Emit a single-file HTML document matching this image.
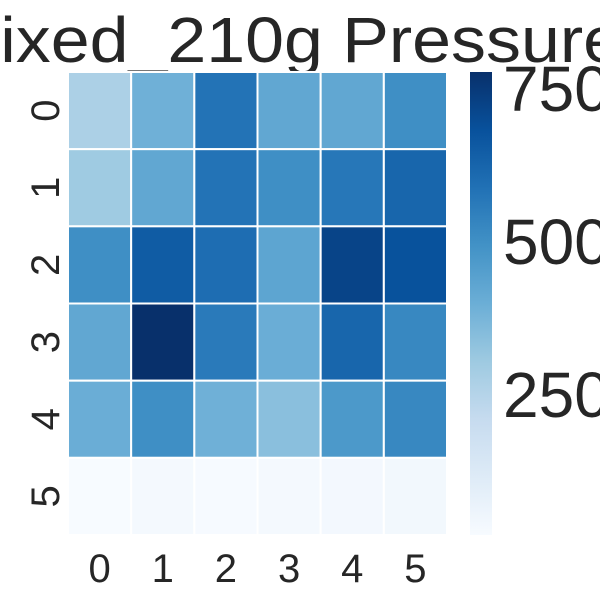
<!DOCTYPE html>
<html><head><meta charset="utf-8"><style>body{margin:0;background:#fff}svg{display:block}</style></head>
<body>
<svg id="chart" width="600" height="600" xmlns="http://www.w3.org/2000/svg" font-family="Liberation Sans, Arial, sans-serif">
<text x="-58" y="62" font-size="64" fill="#262626" textLength="680" lengthAdjust="spacingAndGlyphs">Mixed_210g Pressure</text>
<g id="cells"></g>
<g id="xt"></g>
<g id="yt"></g>
<defs><linearGradient id="cbg" x1="0" y1="1" x2="0" y2="0"></linearGradient></defs>
<rect x="470" y="72" width="22" height="463" fill="url(#cbg)"/>
<g id="ct"></g>
</svg>
<script>
const xLabels=["0","1","2","3","4","5"];
const yLabels=["0","1","2","3","4","5"];
const values=[
[270,390,580,420,420,500],
[300,420,580,500,570,620],
[500,650,600,430,720,680],
[420,776,560,400,620,520],
[400,500,390,340,470,520],
[20,30,25,30,35,40]];
const cbTicks=[250,500,750];
const vmin=20,vmax=776;
const stops=["#f7fbff","#deebf7","#c6dbef","#9ecae1","#6baed6","#4292c6","#2171b5","#08519c","#08306b"];
function hex(h){return [1,3,5].map(i=>parseInt(h.substr(i,2),16));}
function color(v){let t=Math.max(0,Math.min(1,(v-vmin)/(vmax-vmin)))*(stops.length-1);let i=Math.min(Math.floor(t),stops.length-2),f=t-i;const a=hex(stops[i]),b=hex(stops[i+1]);return "rgb("+a.map((c,k)=>Math.round(c+(b[k]-c)*f)).join(",")+")";}
const X0=68,X1=447,Y0=72,Y1=535;
const cw=(X1-X0)/xLabels.length,ch=(Y1-Y0)/yLabels.length;
const xs=i=>X0+i*cw, ys=j=>Y0+j*ch;
const ns="http://www.w3.org/2000/svg";
const cells=document.getElementById('cells');
values.forEach((row,j)=>row.forEach((v,i)=>{const r=document.createElementNS(ns,'rect');
r.setAttribute('x',xs(i));r.setAttribute('y',ys(j));r.setAttribute('width',cw);r.setAttribute('height',ch);
r.setAttribute('fill',color(v));r.setAttribute('stroke','#fff');r.setAttribute('stroke-width','2');


cells.appendChild(r);}));
const xt=document.getElementById('xt');
xLabels.forEach((l,i)=>{const t=document.createElementNS(ns,'text');t.setAttribute('x',xs(i)+cw/2);t.setAttribute('y',582);t.setAttribute('text-anchor','middle');t.setAttribute('font-size','40');t.setAttribute('fill','#262626');t.textContent=l;


xt.appendChild(t);});
const yt=document.getElementById('yt');
yLabels.forEach((l,j)=>{const t=document.createElementNS(ns,'text');const cy=ys(j)+ch/2;t.setAttribute('transform','translate(59,'+cy+') rotate(-90)');t.setAttribute('text-anchor','middle');t.setAttribute('font-size','40');t.setAttribute('fill','#262626');t.textContent=l;


yt.appendChild(t);});
const g=document.getElementById('cbg');
stops.forEach((s,k)=>{const st=document.createElementNS(ns,'stop');st.setAttribute('offset',k/(stops.length-1));st.setAttribute('stop-color',s);g.appendChild(st);});
const ct=document.getElementById('ct');
const cy=v=>Y1-(v-vmin)/(vmax-vmin)*(Y1-Y0);
cbTicks.forEach(v=>{const t=document.createElementNS(ns,'text');t.setAttribute('x',503);t.setAttribute('y',cy(v)+23);t.setAttribute('font-size','64');t.setAttribute('fill','#262626');t.textContent=v;


ct.appendChild(t);});
</script>
</body></html>
